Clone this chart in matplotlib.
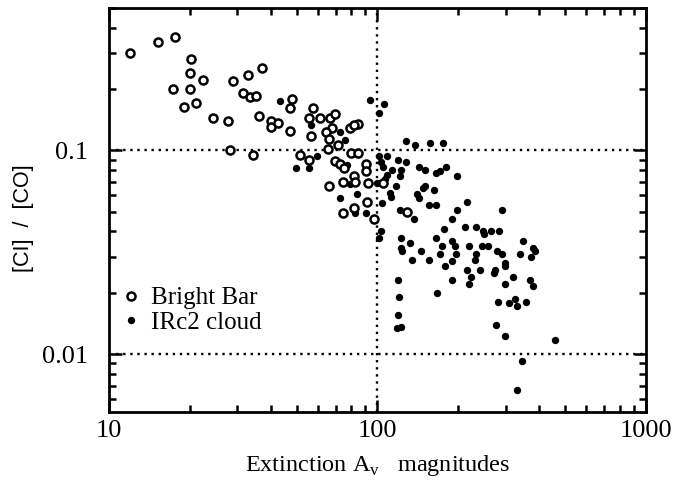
import matplotlib
matplotlib.use('Agg')
import matplotlib.pyplot as plt
from matplotlib.ticker import FixedLocator, LogLocator, NullFormatter, FixedFormatter

plt.rcParams['font.family'] = 'Liberation Serif'
plt.rcParams['mathtext.fontset'] = 'custom'
plt.rcParams['mathtext.rm'] = 'Liberation Serif'

# Bright Bar positions: extinction Av (mag) and [CI]/[CO]
bright_av = [12.0, 15.3, 17.7, 20.2, 20.1, 17.3, 20.1, 22.4, 19.0, 21.1, 24.5, 27.9,
             28.3, 34.5, 29.0, 32.9, 37.3, 31.7, 33.6, 35.3, 36.1, 40.2, 40.1, 42.6,
             48.0, 47.3, 47.3, 57.8, 55.7, 60.9, 56.7, 66.8, 69.3, 67.8, 64.4, 65.8,
             71.1, 65.5, 79.3, 84.4, 81.6, 51.6, 55.7, 69.7, 72.3, 74.9, 79.8, 84.7,
             91.0, 90.8, 81.6, 82.8, 74.2, 66.2, 92.3, 91.6, 81.6, 74.2, 96.9, 105,
             129]
bright_ratio = [0.30, 0.34, 0.36, 0.28, 0.24, 0.20, 0.20, 0.22, 0.163, 0.17, 0.144, 0.139,
                0.100, 0.095, 0.218, 0.234, 0.252, 0.192, 0.183, 0.184, 0.147, 0.139, 0.130, 0.136,
                0.178, 0.161, 0.124, 0.162, 0.144, 0.144, 0.118, 0.144, 0.150, 0.129, 0.123, 0.114,
                0.106, 0.102, 0.129, 0.135, 0.133, 0.095, 0.090, 0.0886, 0.086, 0.082, 0.097, 0.097,
                0.086, 0.079, 0.075, 0.070, 0.070, 0.067, 0.069, 0.056, 0.052, 0.049, 0.046, 0.069,
                0.050]

# IRc2 cloud positions
irc2_av = [43.5, 56.7, 49.9, 55.7, 59.6, 72.8, 76.0, 77.1, 79.3, 84.0, 72.8, 82.8,
           90.8, 94.2, 101, 101, 99.7, 101, 106, 128, 138, 157, 175, 109,
           119, 128, 103, 105, 113, 122, 109, 121, 107, 143, 151, 165,
           171, 180, 198, 117, 111, 112, 151, 148, 140, 143, 162, 216,
           155, 165, 121, 137, 198, 190, 290, 177, 212, 232, 248, 250,
           264, 284, 103, 122, 132, 165, 190, 194, 122, 124, 145, 174,
           171, 197, 219, 246, 258, 232, 230, 278, 290, 347, 340, 378,
           385, 372, 135, 155, 179, 190, 190, 215, 224, 219, 240, 273,
           272, 299, 299, 320, 299, 370, 378, 119, 120, 167, 282, 309,
           325, 332, 357, 119, 122, 118, 277, 298, 458, 344, 332, 104]
irc2_ratio = [0.175, 0.133, 0.082, 0.082, 0.094, 0.123, 0.112, 0.085, 0.068, 0.061, 0.058, 0.049,
              0.049, 0.176, 0.153, 0.094, 0.069, 0.037, 0.169, 0.111, 0.106, 0.109, 0.109, 0.094,
              0.090, 0.088, 0.088, 0.083, 0.080, 0.080, 0.076, 0.075, 0.072, 0.083, 0.080, 0.077,
              0.079, 0.083, 0.075, 0.067, 0.062, 0.059, 0.067, 0.065, 0.061, 0.058, 0.064, 0.056,
              0.054, 0.054, 0.051, 0.046, 0.051, 0.046, 0.051, 0.041, 0.042, 0.042, 0.040, 0.039,
              0.040, 0.040, 0.040, 0.037, 0.035, 0.037, 0.036, 0.034, 0.033, 0.032, 0.032, 0.034,
              0.031, 0.031, 0.034, 0.034, 0.034, 0.031, 0.029, 0.032, 0.031, 0.036, 0.031, 0.033,
              0.032, 0.030, 0.029, 0.029, 0.027, 0.0285, 0.023, 0.026, 0.024, 0.022, 0.026, 0.026,
              0.025, 0.028, 0.027, 0.024, 0.022, 0.023, 0.0215, 0.023, 0.019, 0.020, 0.018, 0.0178,
              0.0187, 0.0172, 0.018, 0.0155, 0.0136, 0.0134, 0.0139, 0.0123, 0.0117, 0.0092, 0.0067, 0.055]

fig = plt.figure(figsize=(6.8, 4.87), dpi=100)
ax = fig.add_axes([0.160, 0.154, 0.790, 0.830])

ax.set_xscale('log')
ax.set_yscale('log')
ax.set_xlim(10, 1000)
ax.set_ylim(0.0052, 0.5)

# dotted reference lines
dot = (0, (1, 2))
ax.axvline(100, color='black', lw=1.7, ls=dot, zorder=1)
ax.axhline(0.1, color='black', lw=1.7, ls=dot, zorder=1)
ax.axhline(0.01, color='black', lw=1.7, ls=dot, zorder=1)

ax.plot(irc2_av, irc2_ratio, 'o', color='black', ms=5.3, mew=0, ls='none',
        label='IRc2 cloud', zorder=3)
ax.plot(bright_av, bright_ratio, 'o', mfc='white', mec='black', ms=5.8, mew=1.8,
        ls='none', label='Bright Bar', zorder=4)

# ticks
ax.xaxis.set_major_locator(FixedLocator([10, 100, 1000]))
ax.xaxis.set_major_formatter(FixedFormatter(['10', '100', '1000']))
ax.xaxis.set_minor_locator(LogLocator(base=10, subs=range(2, 10)))
ax.xaxis.set_minor_formatter(NullFormatter())
ax.yaxis.set_major_locator(FixedLocator([0.01, 0.1]))
ax.yaxis.set_major_formatter(FixedFormatter(['0.01', '0.1']))
ax.yaxis.set_minor_locator(LogLocator(base=10, subs=range(2, 10)))
ax.yaxis.set_minor_formatter(NullFormatter())

ax.tick_params(which='both', direction='in', top=True, right=True, width=1.8)
ax.tick_params(which='major', length=9)
ax.tick_params(which='minor', length=5)
ax.tick_params(axis='x', which='major', labelsize=19, pad=6)
ax.tick_params(axis='y', which='major', labelsize=19, pad=15)

for s in ax.spines.values():
    s.set_linewidth(2.0)

ax.set_xlabel(r'Extinction A$_{\mathrm{v}}$   magnitudes', fontsize=17.5, labelpad=8)
ax.set_ylabel('[CI]  /  [CO]', fontsize=15.5, fontfamily='Liberation Sans')
ax.yaxis.set_label_coords(-0.140, 0.48)

handles, labels = ax.get_legend_handles_labels()
leg = ax.legend(handles[::-1], labels[::-1], loc='lower left', bbox_to_anchor=(0.0, 0.156),
                frameon=False, fontsize=18, handlelength=0.6, handletextpad=0.5,
                labelspacing=0.08, borderpad=0.3, borderaxespad=0.3)

fig.savefig('out.png', dpi=100)
